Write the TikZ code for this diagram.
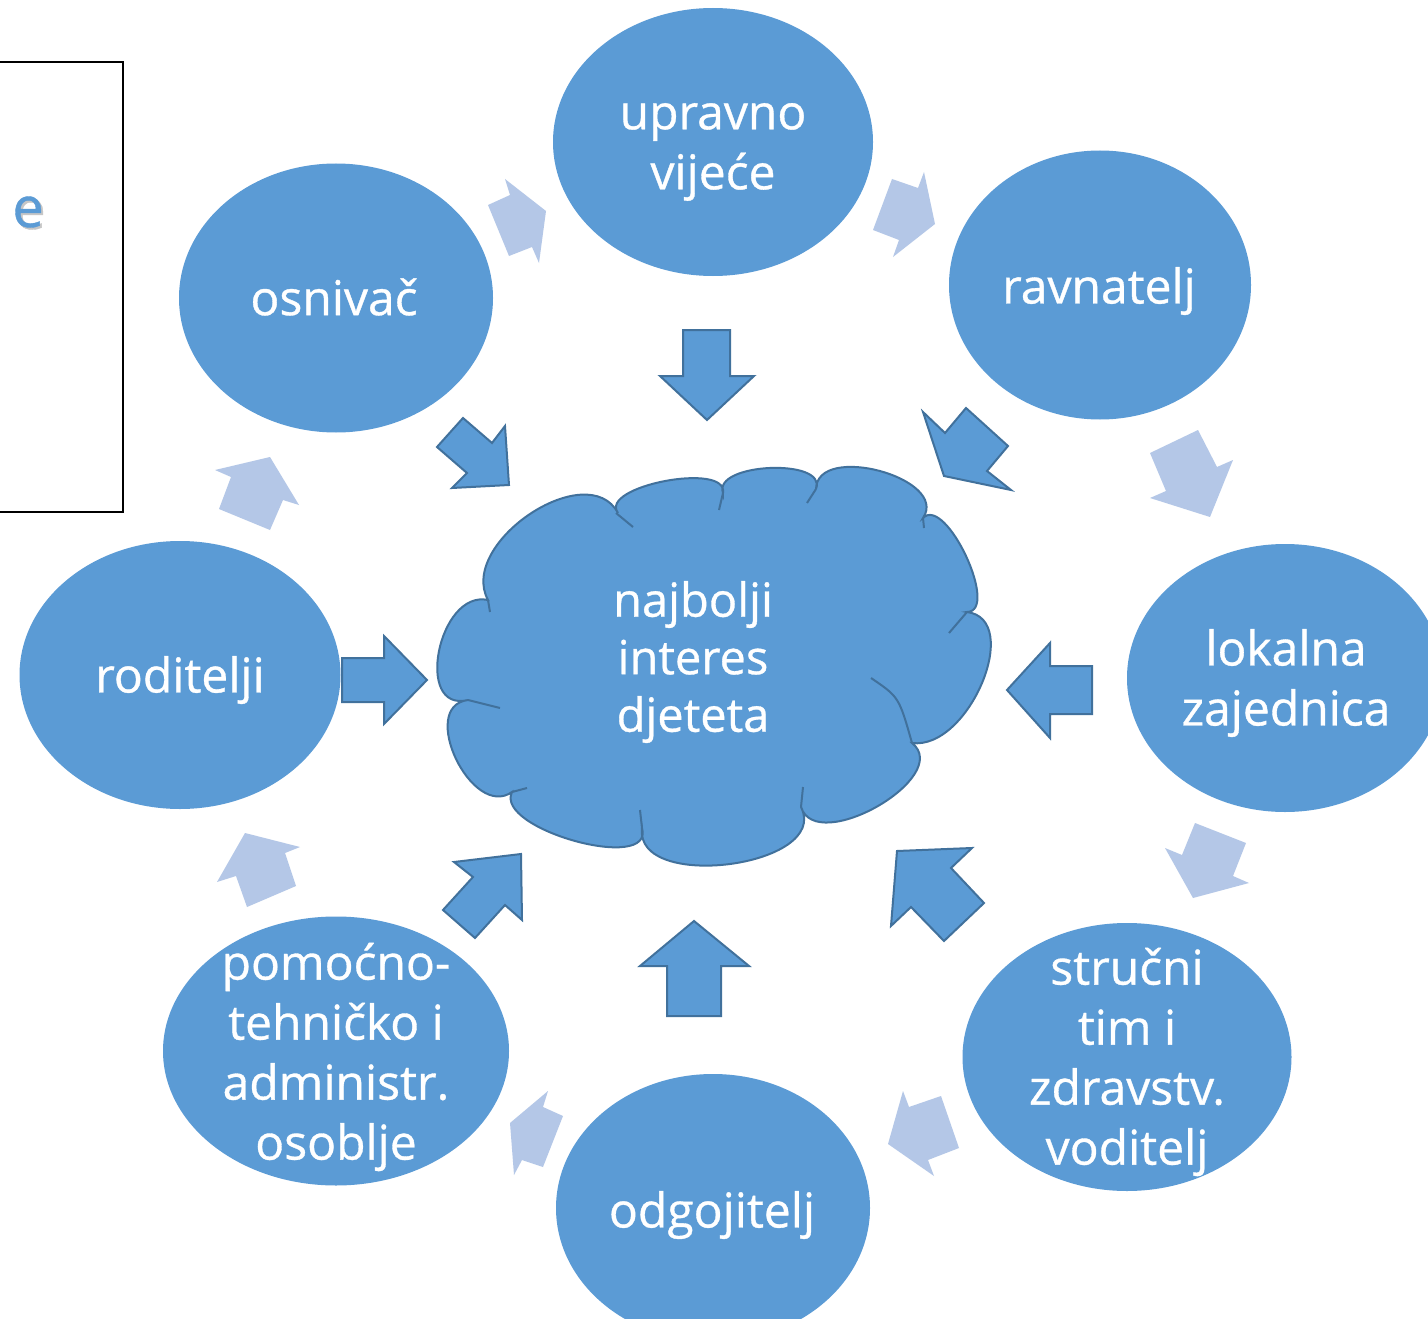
\documentclass[tikz,border=0pt]{standalone}
\usepackage{fontspec}
\setmainfont{Open Sans}
\newfontfamily\lblfont{Open Sans}[FakeBold=0.7]
\usetikzlibrary{shapes.geometric}
\definecolor{fillblue}{HTML}{5B9BD5}
\definecolor{edgeblue}{HTML}{41719C}
\definecolor{lightblue}{HTML}{B4C7E7}
\begin{document}
\begin{tikzpicture}[x=1pt,y=-1pt,
  ell/.style={ellipse, fill=fillblue, draw=none, inner sep=0pt},
  lbl/.style={text=white, align=center, inner sep=0pt, font=\lblfont\fontsize{48}{60}\selectfont},
  cloudlbl/.style={text=white, align=center, inner sep=0pt, font=\lblfont\fontsize{47}{57.5}\selectfont},
  ttlstyle/.style={anchor=base east, inner sep=0pt, font=\lblfont\fontsize{56}{60}\selectfont},
  darrow/.style={fill=fillblue, draw=edgeblue, line width=2pt, line join=miter},
  larrow/.style={fill=lightblue, draw=none},
  cloudline/.style={draw=edgeblue, line width=2pt}]
\useasboundingbox (0,0) rectangle (1428,1319);
\fill[white] (0,0) rectangle (1428,1319);

% left box with partial title
\draw[black, line width=2.5pt] (-10,62) rectangle (123,512);
\node[ttlstyle, text=gray!45] (ttlshadow) at (46,229) {c\kern13pt e};
\node[ttlstyle, text=fillblue] (ttl) at (44,227) {c\kern13pt e};

% ellipses
\node[ell, minimum width=320pt, minimum height=268pt] (upr) at (713,142) {};
\node[ell, minimum width=314pt, minimum height=269pt] (osn) at (336,298) {};
\node[ell, minimum width=302pt, minimum height=269pt] (rav) at (1100,285) {};
\node[ell, minimum width=316pt, minimum height=268pt] (lok) at (1285,678) {};
\node[ell, minimum width=329pt, minimum height=268pt] (str) at (1127,1057) {};
\node[ell, minimum width=314pt, minimum height=268pt] (odg) at (713,1208) {};
\node[ell, minimum width=346pt, minimum height=269pt] (pom) at (336,1051) {};
\node[ell, minimum width=321pt, minimum height=268pt] (rod) at (180,675) {};

\node[lbl] (upr-t) at (713,152) {upravno\\vijeće};
\node[lbl] (osn-t) at (334,297) {osnivač};
\node[lbl] (rav-t) at (1099,291) {ravnatelj};
\node[lbl] (lok-t) at (1286,683) {lokalna\\zajednica};
\node[lbl] (str-t) at (1127,1062) {stručni\\tim i\\zdravstv.\\voditelj};
\node[lbl] (odg-t) at (712,1215) {odgojitelj};
\node[lbl] (pom-t) at (336,1057) {pomoćno-\\tehničko i\\administr.\\osoblje};
\node[lbl] (rod-t) at (180,680) {roditelji};

% cloud
\path[fill=fillblue, cloudline]
  (488,600) .. controls (457.3,543.3) and (587.3,456.3) .. (618,513)
  .. controls (598.1,486.1) and (728.3,461.3) .. (723,493)
  .. controls (712.5,462.8) and (827.9,457.8) .. (816,489)
  .. controls (817.2,442.2) and (949.8,478.2) .. (923,518)
  .. controls (945.7,494.7) and (1000.3,611.3) .. (967,612)
  .. controls (1023.7,619.3) and (968.7,750.3) .. (912,743)
  .. controls (954.0,776.6) and (816.4,856.0) .. (801,807)
  .. controls (831.4,866.5) and (634.2,892.5) .. (642,828)
  .. controls (654.9,873.6) and (493.7,829.0) .. (512,792)
  .. controls (472.0,820.3) and (417.4,706.3) .. (468,700)
  .. controls (413.6,713.3) and (438.4,589.3) .. (488,600) -- cycle;
\draw[cloudline] (616,513) -- (633,527);
\draw[cloudline] (719,510) -- (723,493);
\draw[cloudline] (807,503) -- (816,489);
\draw[cloudline] (923,518) -- (924,528);
\draw[cloudline] (949,633) -- (967,612);
\draw[cloudline] (871,678) .. controls (899,697) .. (912,743);
\draw[cloudline] (803,787) -- (801,807);
\draw[cloudline] (640,810) -- (642,828);
\draw[cloudline] (512,792) -- (527,788);
\draw[cloudline] (468,700) -- (500,708);
\draw[cloudline] (490,612) -- (488,600);
\node[cloudlbl] (cloud-t) at (693,662) {najbolji\\interes\\djeteta};

% dark arrows towards the centre
\draw[darrow] (683,330) -- (730,330) -- (730,376) -- (754,376) -- (707,420) -- (660,376) -- (683,376) -- cycle;
\draw[darrow] (463,418) -- (492,443) -- (505,426) -- (509,485) -- (452,488) -- (467,473) -- (437,447) -- cycle;
\draw[darrow] (923,412) -- (945,433) -- (966,408) -- (1008,446) -- (987,471) -- (1011,490) -- (944,476) -- cycle;
\draw[darrow] (342,658) -- (384,658) -- (384,636) -- (427,680) -- (384,724) -- (384,702) -- (342,702) -- cycle;
\draw[darrow] (1092,666) -- (1050,666) -- (1050,643) -- (1007,690) -- (1050,738) -- (1050,714) -- (1092,714) -- cycle;
\draw[darrow] (667,1016) -- (667,966) -- (640,966) -- (694,921) -- (749,966) -- (721,966) -- (721,1016) -- cycle;
\draw[darrow] (454,862) -- (521,854) -- (522,920) -- (505,905) -- (475,938) -- (443,910) -- (473,877) -- cycle;
\draw[darrow] (897,851) -- (972,848) -- (951,868) -- (984,903) -- (944,941) -- (911,907) -- (891,926) -- cycle;

% light arrows around the ring
\fill[larrow] (505,179) -- (546,211) -- (539,263) -- (532,247) -- (509,256) -- (488,205) -- (510,195) -- cycle;
\fill[larrow] (924,172) -- (935,224) -- (893,257) -- (899,240) -- (873,230) -- (892,179) -- (918,188) -- cycle;
\fill[larrow] (1150,453) -- (1198,430) -- (1217,467) -- (1233,460) -- (1210,517) -- (1150,498) -- (1166,491) -- cycle;
\fill[larrow] (1195,823) -- (1246,843) -- (1233,876) -- (1249,883) -- (1193,898) -- (1165,848) -- (1182,855) -- cycle;
\fill[larrow] (903,1091) -- (909,1107) -- (941,1096) -- (959,1148) -- (928,1160) -- (934,1176) -- (888,1144) -- cycle;
\fill[larrow] (548,1091) -- (543,1107) -- (563,1116) -- (543,1167) -- (522,1160) -- (514,1175) -- (510,1123) -- cycle;
\fill[larrow] (245,833) -- (300,847) -- (285,853) -- (296,886) -- (247,907) -- (236,876) -- (217,882) -- cycle;
\fill[larrow] (215,470) -- (270,457) -- (299,505) -- (283,500) -- (270,530) -- (219,509) -- (231,477) -- cycle;
\end{tikzpicture}
\end{document}
